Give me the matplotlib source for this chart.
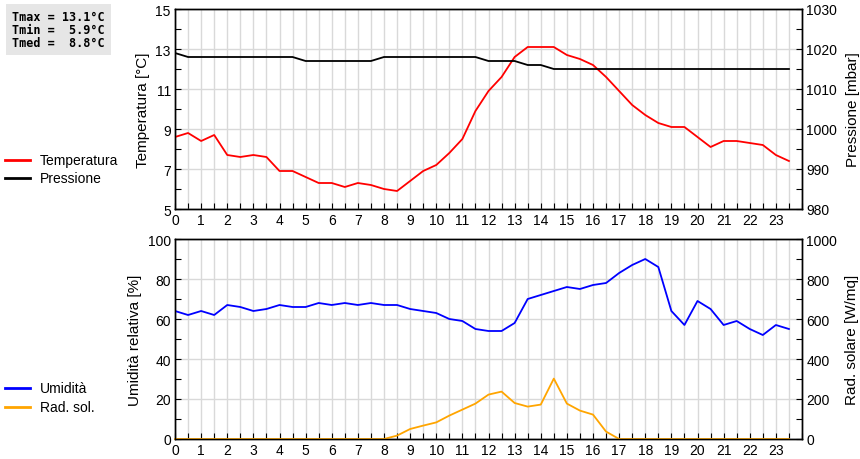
import numpy as np
import matplotlib
matplotlib.use("Agg")
import matplotlib.pyplot as plt
from matplotlib.ticker import MultipleLocator

plt.rcParams['font.family'] = ['Liberation Sans', 'DejaVu Sans']

# ore ogni mezz'ora
ore = np.arange(0, 24, 0.5)

temperatura = [8.6, 8.8, 8.4, 8.7, 7.7, 7.6, 7.7, 7.6, 6.9, 6.9, 6.6, 6.3,
               6.3, 6.1, 6.3, 6.2, 6.0, 5.9, 6.4, 6.9, 7.2, 7.8, 8.5, 9.9,
               10.9, 11.6, 12.6, 13.1, 13.1, 13.1, 12.7, 12.5, 12.2, 11.6, 10.9, 10.2,
               9.7, 9.3, 9.1, 9.1, 8.6, 8.1, 8.4, 8.4, 8.3, 8.2, 7.7, 7.4]
pressione = [1019, 1018, 1018, 1018, 1018, 1018, 1018, 1018, 1018, 1018, 1017, 1017,
             1017, 1017, 1017, 1017, 1018, 1018, 1018, 1018, 1018, 1018, 1018, 1018,
             1017, 1017, 1017, 1016, 1016, 1015, 1015, 1015, 1015, 1015, 1015, 1015,
             1015, 1015, 1015, 1015, 1015, 1015, 1015, 1015, 1015, 1015, 1015, 1015]
umidita = [64, 62, 64, 62, 67, 66, 64, 65, 67, 66, 66, 68,
           67, 68, 67, 68, 67, 67, 65, 64, 63, 60, 59, 55,
           54, 54, 58, 70, 72, 74, 76, 75, 77, 78, 83, 87,
           90, 86, 64, 57, 69, 65, 57, 59, 55, 52, 57, 55]
rad_sol = [0, 0, 0, 0, 0, 0, 0, 0, 0, 0, 0, 0,
           0, 0, 0, 0, 0, 17, 50, 67, 83, 117, 147, 177,
           222, 237, 180, 162, 172, 302, 177, 142, 122, 37, 0, 0,
           0, 0, 0, 0, 0, 0, 0, 0, 0, 0, 0, 0]

tmax, tmin, tmed = max(temperatura), min(temperatura), 8.8

fig = plt.figure(figsize=(8.6, 4.6), dpi=100)
left, width, h = 175/860, 627/860, 200/460
ax1 = fig.add_axes([left, 1 - 210/460, width, h])
ax3 = fig.add_axes([left, 1 - 440/460, width, h])
ax2 = ax1.twinx()
ax4 = ax3.twinx()

grid_c = '#d9d9d9'

def stile(ax, axr, ylim, yr, step, rstep):
    ax.set_xlim(0, 24)
    ax.set_ylim(*ylim)
    axr.set_ylim(*yr)
    ax.set_xticks(range(24))
    ax.xaxis.set_minor_locator(MultipleLocator(0.5))
    ax.set_yticks(np.arange(ylim[0], ylim[1] + step / 2, step))
    ax.set_yticks(np.arange(ylim[0], ylim[1], step / 2), minor=True)
    axr.yaxis.set_major_locator(MultipleLocator(rstep))
    axr.yaxis.set_minor_locator(MultipleLocator(rstep / 2))
    for a in (ax, axr):
        a.tick_params(which='both', direction='in', length=4, width=0.8,
                      labelsize=10, pad=3)
        for s in a.spines.values():
            s.set_linewidth(1)
    ax.tick_params(axis='x', which='both', top=False)
    ax.grid(True, which='major', axis='y', color=grid_c, lw=1)
    ax.grid(True, which='both', axis='x', color=grid_c, lw=1)
    ax.set_axisbelow(True)

stile(ax1, ax2, (5, 15), (980, 1030), 2, 10)
stile(ax3, ax4, (0, 100), (0, 1000), 20, 200)

ax1.plot(ore, temperatura, color='#ff0000', lw=1.3, zorder=3)
ax2.plot(ore, pressione, color='black', lw=1.3)
ax3.plot(ore, umidita, color='#0000ff', lw=1.3, zorder=3)
ax4.plot(ore, rad_sol, color='#ffa500', lw=1.3, clip_on=False)

ax1.set_ylabel('Temperatura [°C]', fontsize=11, labelpad=4)
ax2.set_ylabel('Pressione [mbar]', fontsize=11, labelpad=6)
ax3.set_ylabel('Umidità relativa [%]', fontsize=11, labelpad=4)
ax4.set_ylabel('Rad. solare [W/mq]', fontsize=11, labelpad=6)

# box riassuntivo
testo = 'Tmax = %4.1f°C\nTmin = %4.1f°C\nTmed = %4.1f°C' % (tmax, tmin, tmed)
fig.text(12/860, 1 - 11/460, testo, family='DejaVu Sans Mono', weight='bold',
         fontsize=8.5, va='top', ha='left', linespacing=1.0,
         bbox=dict(boxstyle='square,pad=0.5', fc='#e6e6e6', ec='none'))

# legende a sinistra
def voce(y, col, lab):
    fig.add_artist(plt.Line2D([5/860, 30/860], [1 - y/460] * 2, color=col, lw=2))
    fig.text(40/860, 1 - y/460, lab, fontsize=10, va='center', ha='left')

voce(161, '#ff0000', 'Temperatura')
voce(179, 'black', 'Pressione')
voce(389, '#0000ff', 'Umidità')
voce(408, '#ffa500', 'Rad. sol.')

plt.savefig('out.png', dpi=100)
